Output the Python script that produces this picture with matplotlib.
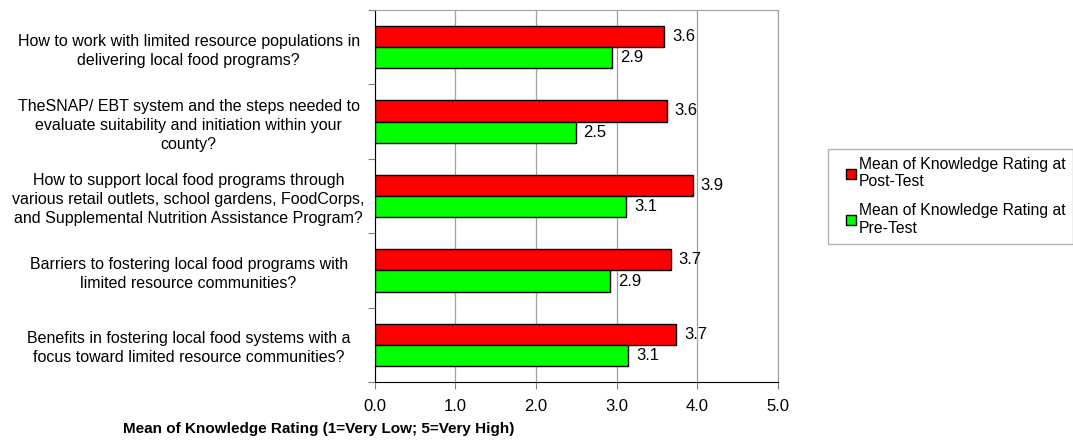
import numpy as np
import matplotlib.pyplot as plt
from matplotlib.lines import Line2D

plt.rcParams['font.family'] = ['Liberation Sans', 'DejaVu Sans']

questions = [
    'How to work with limited resource populations in\ndelivering local food programs?',
    'TheSNAP/ EBT system and the steps needed to\nevaluate suitability and initiation within your\ncounty?',
    'How to support local food programs through\nvarious retail outlets, school gardens, FoodCorps,\nand Supplemental Nutrition Assistance Program?',
    'Barriers to fostering local food programs with\nlimited resource communities?',
    'Benefits in fostering local food systems with a\nfocus toward limited resource communities?',
]
post_test = [3.59, 3.62, 3.94, 3.67, 3.74]
pre_test = [2.94, 2.49, 3.12, 2.92, 3.14]
series_names = ['Mean of Knowledge Rating at\nPost-Test', 'Mean of Knowledge Rating at\nPre-Test']
colors = ['#ff0000', '#00ff00']

fig = plt.figure(figsize=(10.73, 4.45), dpi=100)
ax = fig.add_axes([0.3492, 0.1416, 0.7251 - 0.3492, 0.9775 - 0.1416])

y = np.arange(len(questions))
h = 0.286
ax.barh(y - h / 2, post_test, height=h, color=colors[0], edgecolor='black', linewidth=1, zorder=3)
ax.barh(y + h / 2, pre_test, height=h, color=colors[1], edgecolor='black', linewidth=1, zorder=3)

for yi, v in zip(y, post_test):
    ax.text(v + 0.1, yi - h / 2, f'{v:.1f}', va='center', ha='left', fontsize=12)
for yi, v in zip(y, pre_test):
    ax.text(v + 0.1, yi + h / 2, f'{v:.1f}', va='center', ha='left', fontsize=12)

ax.set_xlim(0, 5)
ax.set_ylim(len(questions) - 0.5, -0.5)
ax.set_xticks(np.arange(0, 5.01, 1))
ax.set_xticklabels([f'{t:.1f}' for t in np.arange(0, 5.01, 1)], fontsize=12)
ax.set_yticks(y)
ax.set_yticklabels(questions, fontsize=11.5, ha='center', linespacing=1.35)
ax.tick_params(axis='y', length=0, pad=134)
ax.set_yticks(np.arange(-0.5, len(questions), 1), minor=True)
ax.tick_params(axis='y', which='minor', length=5, width=0.8, color='#808080')
ax.tick_params(axis='x', length=5, width=0.8, color='#808080', pad=7)
ax.grid(axis='x', color='#a0a0a0', linewidth=0.9, zorder=0)

ax.spines['left'].set_color('black')
ax.spines['bottom'].set_color('black')
ax.spines['top'].set_color('#a0a0a0')
ax.spines['right'].set_color('#a0a0a0')

fig.text(0.1146, 0.035, 'Mean of Knowledge Rating (1=Very Low; 5=Very High)',
         fontsize=11, fontweight='bold', ha='left', va='center')

handles = [Line2D([], [], marker='s', linestyle='', markersize=7, markerfacecolor=c,
                  markeredgecolor='black', markeredgewidth=1) for c in colors]
leg = fig.legend(handles, series_names, loc='upper left', bbox_to_anchor=(0.772, 0.665),
                 fontsize=11.3, frameon=True, fancybox=False, edgecolor='#a0a0a0',
                 numpoints=1, handlelength=1.9, handletextpad=-0.45,
                 labelspacing=0.9, borderpad=0.5, borderaxespad=0)
leg.get_frame().set_linewidth(1)

fig.savefig('out.png', dpi=100)
